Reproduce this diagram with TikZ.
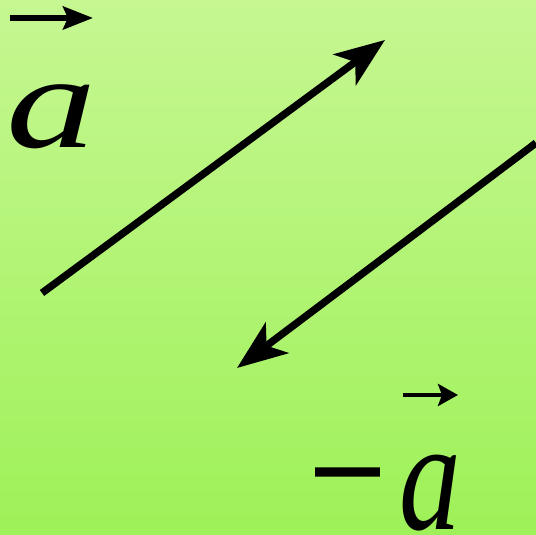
\documentclass[tikz,border=0pt]{standalone}
\usepackage{fontspec}
\setmainfont{Liberation Serif}
\newfontfamily\wideit{Liberation Serif}[FakeStretch=1.35]
\newfontfamily\narrowit{Liberation Serif}[FakeStretch=0.78]
\newfontfamily\boldminus{Liberation Serif}[FakeBold=2]
\usetikzlibrary{arrows.meta, positioning}

\definecolor{bgtop}{RGB}{198,247,146}
\definecolor{bgbot}{RGB}{158,241,88}

\begin{document}
\begin{tikzpicture}[>=Stealth,
    vecline/.style={line width=2.1pt, -{Stealth[length=0.5cm, width=0.38cm, inset=0.13cm]}},
    hatline/.style={line width=1.6pt, -{Stealth[length=0.3cm, width=0.23cm, inset=0.05cm]}},
    smallhat/.style={line width=1.3pt, -{Stealth[length=0.2cm, width=0.22cm, inset=0.04cm]}}]
    % Background
    \shade[top color=bgtop, bottom color=bgbot] (0,0) rectangle (5.36,5.35);
    \useasboundingbox (0,0) rectangle (5.36,5.35);

    % Labels
    \node[font=\fontsize{38}{38}\wideit\itshape, inner sep=0pt, anchor=base west] (avec) at (0.06,3.87) {a};
    \node[font=\fontsize{38}{38}\boldminus, inner sep=0pt] (minus) at (3.475,0.425) {−};
    \node[font=\fontsize{45}{45}\narrowit\itshape, inner sep=0pt, anchor=base west] (nega) at (3.99,0.05) {a};

    % Vector hats
    \coordinate (hatA1) at (0.10,5.17);
    \coordinate (hatA2) at (0.93,5.17);
    \draw[hatline] (hatA1) -- (hatA2);
    \coordinate (hatB1) at (4.03,1.40);
    \coordinate (hatB2) at (4.58,1.40);
    \draw[smallhat] (hatB1) -- (hatB2);

    % Main arrows
    \coordinate (p1) at (0.42,2.42);
    \coordinate (p2) at (3.85,4.95);
    \draw[vecline] (p1) -- (p2);
    \coordinate (q1) at (5.36,3.92);
    \coordinate (q2) at (2.37,1.67);
    \draw[vecline] (q1) -- (q2);
\end{tikzpicture}
\end{document}
